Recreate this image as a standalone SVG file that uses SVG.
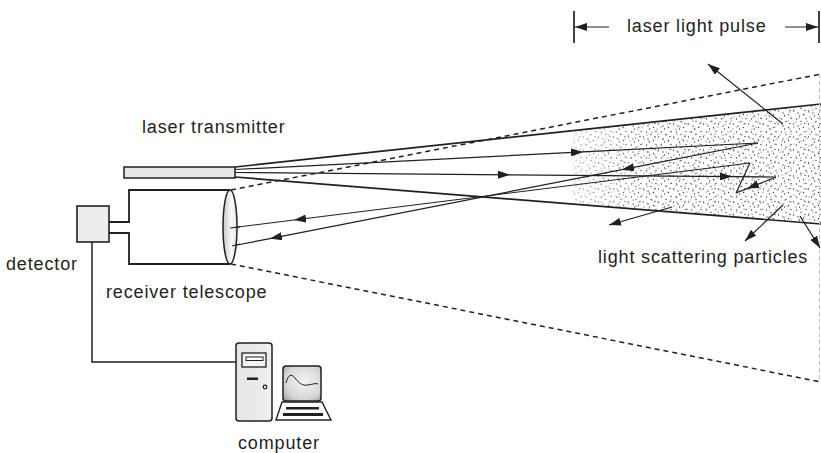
<svg xmlns="http://www.w3.org/2000/svg" width="821" height="453" viewBox="0 0 821 453">
  <style>
    .ink { stroke: #231f20; fill: none; }
    .beam { stroke: #231f20; stroke-width: 1.7; fill: none; }
    .ray { stroke: #231f20; stroke-width: 1.2; fill: none; }
    .fov { stroke: #231f20; stroke-width: 1.5; fill: none; stroke-dasharray: 5 4; }
    .label { font-family: "Liberation Sans", Arial, sans-serif; font-size: 18px; letter-spacing: 0.85px; fill: #231f20; }
  </style>
  <defs>
    <marker id="ah" viewBox="0 0 12 8" refX="12" refY="4" markerWidth="12" markerHeight="8" markerUnits="userSpaceOnUse" orient="auto">
      <path d="M0,0 L12,4 L0,8 Z" fill="#231f20"/>
    </marker>
    <linearGradient id="lensFill" x1="0" y1="0" x2="1" y2="0">
      <stop offset="0" stop-color="#c9c9c9"/>
      <stop offset="0.6" stop-color="#fafafa"/>
      <stop offset="1" stop-color="#e4e4e4"/>
    </linearGradient>
    <radialGradient id="screenFill" cx="0.55" cy="0.45" r="0.7">
      <stop offset="0" stop-color="#f4f4f4"/>
      <stop offset="0.7" stop-color="#d6d6d6"/>
      <stop offset="1" stop-color="#a9a9a9"/>
    </radialGradient>
    <linearGradient id="towerFill" x1="0" y1="0" x2="1" y2="0">
      <stop offset="0" stop-color="#e4e5e6"/>
      <stop offset="1" stop-color="#eeeff0"/>
    </linearGradient>
    <!-- scattering particle stipple, two offset tiles to break up the grid -->
    <pattern id="dotsA" width="15" height="13" patternUnits="userSpaceOnUse">
      <g fill="#3a3a3a">
        <circle cx="1.5" cy="2" r="0.65"/><circle cx="6" cy="4.5" r="0.65"/>
        <circle cx="11" cy="1.5" r="0.65"/><circle cx="13.5" cy="7" r="0.65"/>
        <circle cx="3" cy="9" r="0.65"/><circle cx="8.5" cy="10.5" r="0.65"/>
        <circle cx="10" cy="6.5" r="0.65"/><circle cx="4.5" cy="12" r="0.65"/>
      </g>
    </pattern>
    <pattern id="dotsB" width="19" height="17" patternUnits="userSpaceOnUse">
      <g fill="#4a4a4a">
        <circle cx="3" cy="5" r="0.6"/><circle cx="9" cy="2" r="0.6"/>
        <circle cx="15" cy="8" r="0.6"/><circle cx="6" cy="13" r="0.6"/>
        <circle cx="12" cy="15" r="0.6"/><circle cx="17" cy="3" r="0.6"/>
        <circle cx="1" cy="16" r="0.6"/><circle cx="11" cy="10" r="0.6"/>
      </g>
    </pattern>
    <linearGradient id="fadeGrad" gradientUnits="userSpaceOnUse" x1="573" y1="0" x2="650" y2="0">
      <stop offset="0" stop-color="#fff" stop-opacity="0.45"/>
      <stop offset="1" stop-color="#fff" stop-opacity="1"/>
    </linearGradient>
    <mask id="fadeMask">
      <rect x="560" y="90" width="261" height="150" fill="url(#fadeGrad)"/>
    </mask>
  </defs>

  <rect width="821" height="453" fill="#ffffff"/>

  <!-- particle cloud lit by the pulse -->
  <g id="particles" mask="url(#fadeMask)">
    <polygon points="573,130.7 821,104 821,224 573,204.1" fill="url(#dotsA)"/>
    <polygon points="573,130.7 821,104 821,224 573,204.1" fill="url(#dotsB)"/>
  </g>

  <!-- pulse length bracket -->
  <g id="pulse-length">
    <line class="ink" stroke-width="1.7" x1="574" y1="11" x2="574" y2="43"/>
    <line class="ink" stroke-width="1.7" x1="819" y1="11" x2="819" y2="43"/>
    <path class="ray" stroke-width="1.5" d="M609,27 L575,27" marker-end="url(#ah)"/>
    <path class="ray" stroke-width="1.5" d="M785,27 L818,27" marker-end="url(#ah)"/>
  </g>

  <g id="connectors">
    <!-- outgoing laser beam envelope -->
    <line class="beam" x1="235" y1="167" x2="821" y2="104"/>
    <line class="beam" x1="235" y1="177" x2="821" y2="224"/>
    <!-- telescope field of view -->
    <line class="fov" x1="231" y1="190" x2="821" y2="74"/>
    <line class="fov" x1="231" y1="264" x2="821" y2="382"/>
    <line x1="819.5" y1="74" x2="819.5" y2="382" stroke="#c4c4c4" stroke-width="1" stroke-dasharray="4 3"/>

    <!-- single scattering -->
    <path class="ray" d="M235,169.5 L583,151.9 L758,143" marker-mid="url(#ah)"/>
    <path class="ray" d="M758,143 L622,169.6 L270,238.6 L232,246" marker-mid="url(#ah)"/>
    <!-- multiple scattering -->
    <path class="ray" d="M235,172.5 L510,174.8 L732,176.6 L776,177" marker-mid="url(#ah)"/>
    <path class="ray" d="M776,177 L747,188.6 L736,193" marker-mid="url(#ah)"/>
    <path class="ray" d="M736,193 L750,163"/>
    <path class="ray" d="M750,163 L294,220 L230,228" marker-mid="url(#ah)"/>
    <!-- light scattered away from the receiver -->
    <path class="ray" d="M783,124 L708,64" marker-end="url(#ah)"/>
    <path class="ray" d="M672,207 L609,225" marker-end="url(#ah)"/>
    <path class="ray" d="M783,205 L745,241" marker-end="url(#ah)"/>
    <path class="ray" d="M800,216 L820,248" marker-end="url(#ah)"/>

    <!-- signal cable detector to computer -->
    <polyline class="ink" stroke-width="1.5" points="92,242 92,362 236,362"/>
  </g>

  <g id="transmitter">
    <rect x="124" y="167" width="111" height="11" fill="#e6e7e8" stroke="#231f20" stroke-width="1.5"/>
  </g>

  <g id="telescope">
    <path class="ink" stroke-width="1.8" d="M230,190 L129,190 L129,222 L109,222 M109,233 L129,233 L129,264 L230,264"/>
    <ellipse cx="230" cy="227" rx="7" ry="37" fill="url(#lensFill)" stroke="#231f20" stroke-width="1.5"/>
  </g>
  <!-- ray ends drawn over the lens face -->
  <g id="lens-rays">
    <path class="ray" d="M240,226.8 L230,228"/>
    <path class="ray" d="M240,244 L232,246"/>
  </g>

  <g id="detector">
    <rect x="77" y="206" width="32" height="36" fill="#ededee" stroke="#231f20" stroke-width="1.6"/>
  </g>

  <g id="computer">
    <rect x="236" y="343" width="36" height="78" rx="3" fill="url(#towerFill)" stroke="#231f20" stroke-width="1.5"/>
    <rect x="242" y="353" width="24" height="14" fill="#f4f4f4" stroke="#231f20" stroke-width="1.3"/>
    <rect x="246" y="357" width="17" height="3.5" fill="#ffffff" stroke="#231f20" stroke-width="1"/>
    <rect x="247" y="377.5" width="11" height="2.5" fill="#231f20"/>
    <circle cx="265" cy="387" r="1.8" fill="none" stroke="#231f20" stroke-width="1.2"/>
    <rect x="283" y="366" width="38" height="35" rx="3" fill="url(#screenFill)" stroke="#231f20" stroke-width="1.5"/>
    <path class="ink" stroke-width="1" d="M286,383 C288,375 291,373 295,378 S302,386 308,385 S315,383 318,384"/>
    <path d="M282,402 L322,402 L331,420 L276,420 Z" fill="#ffffff" stroke="#231f20" stroke-width="1.4"/>
    <rect x="286" y="407" width="33" height="2.5" fill="#231f20"/>
    <rect x="283" y="413" width="40" height="3" fill="#231f20"/>
  </g>

  <g id="labels">
    <text class="label" x="627" y="32">laser light pulse</text>
    <text class="label" x="142" y="133">laser transmitter</text>
    <text class="label" x="6" y="270">detector</text>
    <text class="label" x="106" y="298">receiver telescope</text>
    <text class="label" x="598" y="263">light scattering particles</text>
    <text class="label" x="238" y="449">computer</text>
  </g>
</svg>
